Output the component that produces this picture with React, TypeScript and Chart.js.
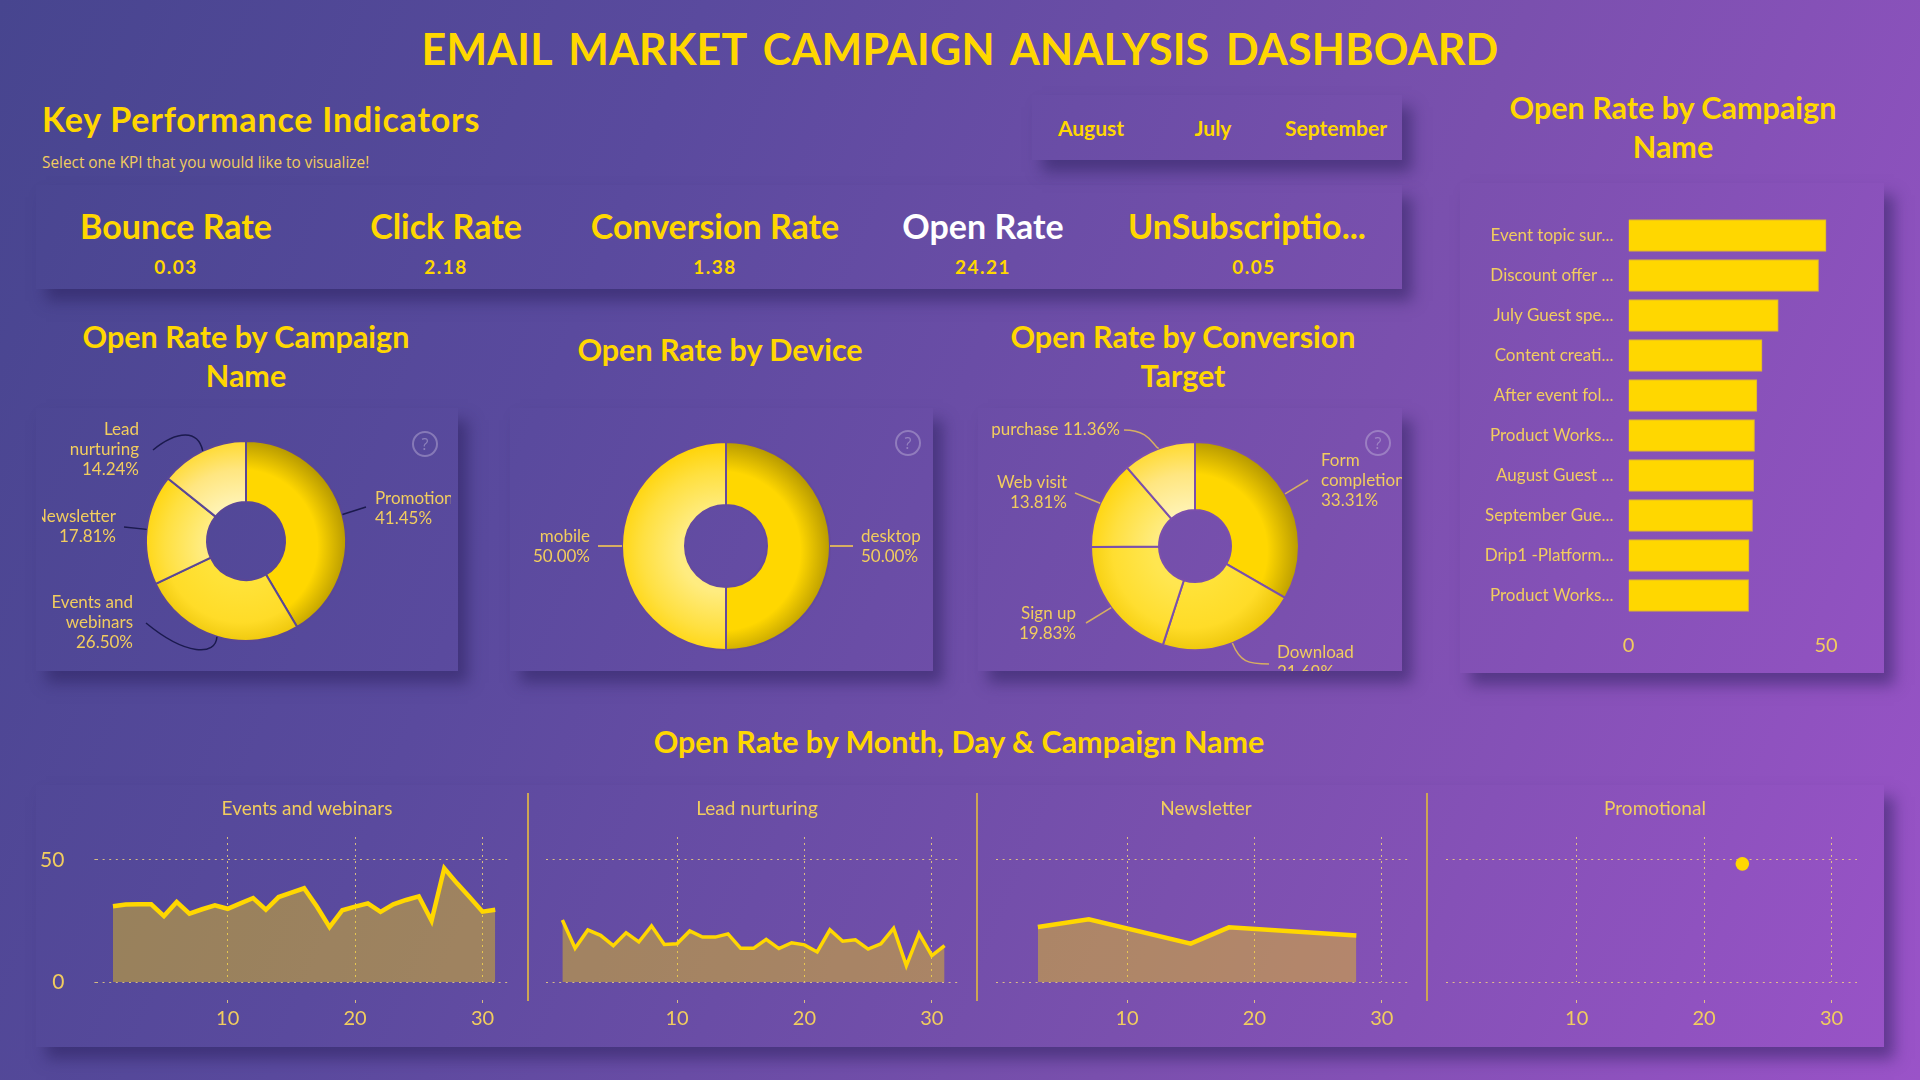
import React, { useEffect, useRef } from "react";
import { Chart, registerables } from "chart.js";

Chart.register(...registerables);

// ---------- data ----------
const kpiNames = ["Bounce Rate", "Click Rate", "Conversion Rate", "Open Rate", "UnSubscriptio..."];
const kpiValues = ["0.03", "2.18", "1.38", "24.21", "0.05"];
const months = ["August", "July", "September"];

const campaignTypes = ["Promotional", "Events and webinars", "Newsletter", "Lead nurturing"];
const campaignTypeRates = [41.45, 26.5, 17.81, 14.24];
const devices = ["desktop", "mobile"];
const deviceRates = [50, 50];
const targets = ["Form completion", "Download", "Sign up", "Web visit", "purchase"];
const targetRates = [33.31, 21.69, 19.83, 13.81, 11.36];

const campaignNames = [
  "Event topic sur...", "Discount offer ...", "July Guest spe...", "Content creati...", "After event fol...",
  "Product Works...", "August Guest ...", "September Gue...", "Drip1 -Platform...", "Product Works...",
];
const campaignRates = [50, 48.1, 37.9, 33.8, 32.5, 31.9, 31.7, 31.4, 30.5, 30.4];
const barAxisTicks = [0, 50];

const dayTicks = [10, 20, 30];
const rateTicks = [0, 50];
const panelNames = ["Events and webinars", "Lead nurturing", "Newsletter", "Promotional"];
const eventsDays = [1, 2, 3, 4, 5, 6, 7, 8, 9, 10, 11, 12, 13, 14, 15, 16, 17, 18, 19, 20, 21, 22, 23, 24, 25, 26, 27, 28, 29, 30, 31];
const eventsRates = [31, 31.7, 31.8, 31.8, 27, 32.8, 28, 29.8, 31.4, 30, 32.2, 34.4, 29.6, 34.8, 36.6, 38.4, 30.9, 22.5, 29.4, 30.9, 32.2, 28.7, 31.8, 33.6, 35.1, 25.1, 46.6, 40.4, 34.7, 28.8, 29.6];
const leadDays = eventsDays;
const leadRates = [25.4, 13.8, 21.3, 19.1, 14.9, 20.2, 16.4, 23, 15.4, 15.7, 20.9, 18.4, 18.4, 19.7, 13.8, 13.8, 17.5, 13.7, 16.1, 15.2, 12.3, 21.4, 16.7, 17.3, 13.5, 15.6, 22, 6.7, 19.9, 10.8, 14.9];
const newsDays = [3, 7, 15, 18, 28];
const newsRates = [22.5, 25.7, 15.7, 22.4, 19];
const promoDays = [23];
const promoRates = [48.4];

// ---------- styling ----------
const GOLD = "#FFD700";
const SOFT = "#F2CD5E";
const HEAD = "Lato, 'Noto Sans', sans-serif";
const THIN = "Lato, 'Open Sans', sans-serif";

type Shade = [string, string, string];
const shadeDeep: Shade = ["#FFD700", "#FFD700", "#B59800"];
const shadeWarm: Shade = ["#FFE238", "#FFDC28", "#E6BE00"];
const shadeMid: Shade = ["#FFE650", "#FFDE30", "#F2C800"];
const shadePale: Shade = ["#FFEC80", "#FFE040", "#FFD200"];
const shadeLight: Shade = ["#FFF4B8", "#FFE680", "#FFD92A"];

type Leader = { to: number[]; c1?: number[]; c2?: number[] };
type Lab = { lines: string[]; x: number; y: number; align: CanvasTextAlign; leader: Leader };

// label layout in page pixels
const layoutTypes: Lab[] = [
  { lines: ["Promotional"], x: 375, y: 499, align: "left", leader: { to: [366, 507] } },
  { lines: ["Events and", "webinars"], x: 133, y: 603, align: "right", leader: { to: [146, 623], c1: [216, 656], c2: [186, 656] } },
  { lines: ["Newsletter"], x: 116, y: 517, align: "right", leader: { to: [124, 527] } },
  { lines: ["Lead", "nurturing"], x: 139, y: 430, align: "right", leader: { to: [153, 450], c1: [198, 430], c2: [178, 430] } },
];
const layoutDevices: Lab[] = [
  { lines: ["desktop"], x: 861, y: 537, align: "left", leader: { to: [853, 546] } },
  { lines: ["mobile"], x: 590, y: 537, align: "right", leader: { to: [598, 546] } },
];
const layoutTargets: Lab[] = [
  { lines: ["Form", "completion"], x: 1321, y: 461, align: "left", leader: { to: [1308, 480] } },
  { lines: ["Download"], x: 1277, y: 653, align: "left", leader: { to: [1269, 664], c1: [1240, 662], c2: [1248, 664] } },
  { lines: ["Sign up"], x: 1076, y: 614, align: "right", leader: { to: [1086, 623] } },
  { lines: ["Web visit"], x: 1067, y: 483, align: "right", leader: { to: [1075, 493] } },
  { lines: [], x: 1120, y: 430, align: "right", leader: { to: [1124, 430], c1: [1153, 446], c2: [1150, 430] } },
];

function DonutCanvas(props: {
  names: string[]; values: number[]; shades: Shade[]; layout: Lab[]; box: number[];
  centerX: number; centerY: number; radius: number; hole: number; edge: string; line: string; lineWidth: number;
}) {
  const ref = useRef<HTMLCanvasElement>(null);
  const { names, values, shades, layout, box, centerX, centerY, radius, hole, edge, line, lineWidth } = props;
  useEffect(() => {
    const [left, top, w, h] = box;
    const cx = centerX - left, cy = centerY - top;
    const labelPlugin = {
      id: "donutLabels",
      afterDatasetsDraw(chart: any) {
        const c = chart.ctx;
        const arcs = chart.getDatasetMeta(0).data;
        c.save();
        layout.forEach((lab, i) => {
          const a = arcs[i];
          const mid = (a.startAngle + a.endAngle) / 2;
          const sx = a.x + Math.cos(mid) * a.outerRadius;
          const sy = a.y + Math.sin(mid) * a.outerRadius;
          c.beginPath();
          c.moveTo(sx, sy);
          const L = lab.leader;
          if (L.c1 && L.c2) c.bezierCurveTo(L.c1[0] - left, L.c1[1] - top, L.c2[0] - left, L.c2[1] - top, L.to[0] - left, L.to[1] - top);
          else c.lineTo(L.to[0] - left, L.to[1] - top);
          c.strokeStyle = line;
          c.lineWidth = lineWidth;
          c.stroke();
          c.font = `17px ${THIN}`;
          c.fillStyle = SOFT;
          c.textAlign = lab.align;
          c.textBaseline = "middle";
          const pct = values[i].toFixed(2) + "%";
          const rows = lab.lines.length ? [...lab.lines, pct] : [names[i] + " " + pct];
          rows.forEach((t, k) => c.fillText(t, lab.x - left, lab.y - top + k * 20));
        });
        c.restore();
      },
    };
    const chart = new Chart(ref.current as HTMLCanvasElement, {
      type: "doughnut",
      data: {
        labels: names,
        datasets: [{
          data: values,
          borderWidth: 2,
          borderColor: edge,
          backgroundColor: (ctx: any) => {
            const area = ctx.chart.chartArea;
            const sh = shades[ctx.dataIndex];
            if (!area) return sh[0];
            const g = ctx.chart.ctx.createRadialGradient(cx - 5, cy + 5, hole, cx - 5, cy + 5, radius + 7);
            g.addColorStop(0, sh[0]);
            g.addColorStop(0.55, sh[1]);
            g.addColorStop(1, sh[2]);
            return g;
          },
        }],
      },
      options: {
        responsive: false,
        animation: false,
        radius,
        cutout: `${(hole / radius) * 100}%`,
        layout: {
          padding: {
            left: Math.max(0, 2 * cx - w), right: Math.max(0, w - 2 * cx),
            top: Math.max(0, 2 * cy - h), bottom: Math.max(0, h - 2 * cy),
          },
        },
        plugins: { legend: { display: false }, tooltip: { enabled: false } },
      } as any,
      plugins: [labelPlugin],
    });
    return () => chart.destroy();
  }, []);
  return <canvas ref={ref} width={box[2]} height={box[3]} style={{ position: "absolute", left: box[0], top: box[1] }} />;
}

function BarCanvas() {
  const ref = useRef<HTMLCanvasElement>(null);
  useEffect(() => {
    const chart = new Chart(ref.current as HTMLCanvasElement, {
      type: "bar",
      data: {
        labels: campaignNames,
        datasets: [{ data: campaignRates, backgroundColor: GOLD, borderColor: "#D9AE3A", borderWidth: 1, barThickness: 32 }],
      },
      options: {
        indexAxis: "y",
        responsive: false,
        animation: false,
        layout: { padding: { top: 32.5, right: 18.4, left: 0, bottom: 0 } },
        scales: {
          x: {
            min: 0, max: 60,
            grid: { display: false }, border: { display: false },
            afterBuildTicks: (axis: any) => { axis.ticks = barAxisTicks.map((value) => ({ value })); },
            afterFit: (axis: any) => { axis.height = 57.5; },
            ticks: { color: SOFT, font: { family: THIN, size: 20 }, padding: 10, maxRotation: 0 },
          },
          y: {
            grid: { display: false }, border: { display: false },
            afterFit: (axis: any) => { axis.width = 168.5; },
            ticks: { color: SOFT, font: { family: THIN, size: 17 }, padding: 7, autoSkip: false },
          },
        },
        plugins: { legend: { display: false }, tooltip: { enabled: false } },
      } as any,
    });
    return () => chart.destroy();
  }, []);
  return <canvas ref={ref} width={424} height={490} style={{ position: "absolute", left: 1460, top: 183 }} />;
}

function LineCanvas(props: { days: number[]; rates: number[]; left: number; width: number; plotLeft: number; plotRight: number; showY: boolean; lineW: number }) {
  const ref = useRef<HTMLCanvasElement>(null);
  const { days, rates, left, width, plotLeft, plotRight, showY, lineW } = props;
  useEffect(() => {
    const dot = "rgba(255,226,120,0.75)";
    const chart = new Chart(ref.current as HTMLCanvasElement, {
      type: "line",
      data: {
        datasets: [{
          data: days.map((x, i) => ({ x, y: rates[i] })),
          borderColor: GOLD,
          borderWidth: lineW,
          borderJoinStyle: "miter",
          backgroundColor: "rgba(255,215,0,0.4)",
          fill: "origin",
          tension: 0,
          pointRadius: days.length === 1 ? 6.8 : 0,
          pointBackgroundColor: GOLD,
          pointBorderWidth: 0,
        }],
      },
      options: {
        responsive: false,
        animation: false,
        layout: { padding: { top: 52, left: 0, right: left + width - plotRight, bottom: 0 } },
        scales: {
          x: {
            type: "linear", min: -0.3, max: 32,
            afterBuildTicks: (axis: any) => { axis.ticks = dayTicks.map((value) => ({ value })); },
            afterFit: (axis: any) => { axis.height = 65; },
            border: { display: false, dash: [2, 4] },
            grid: { color: dot, tickColor: dot, tickLength: 22, tickBorderDash: [3, 100], tickBorderDashOffset: -18 },
            ticks: { color: SOFT, font: { family: THIN, size: 20 }, padding: 3, maxRotation: 0 },
          },
          y: {
            min: 0, max: 59.4,
            afterBuildTicks: (axis: any) => { axis.ticks = rateTicks.map((value) => ({ value })); },
            afterFit: (axis: any) => { axis.width = plotLeft - left; },
            border: { display: false, dash: [2, 4.6] },
            grid: { color: dot, drawTicks: showY, tickColor: dot, tickLength: 18, tickBorderDash: [2, 100], tickBorderDashOffset: -16 },
            ticks: { display: showY, color: SOFT, font: { family: THIN, size: 21 }, padding: 14 },
          },
        },
        plugins: { legend: { display: false }, tooltip: { enabled: false } },
      } as any,
    });
    return () => chart.destroy();
  }, []);
  return <canvas ref={ref} width={width} height={262} style={{ position: "absolute", left, top: 785 }} />;
}

function Txt(p: { x: number; y: number; size: number; children: any; align?: string; weight?: number; color?: string; family?: string; spacing?: number; sx?: number; words?: number }) {
  const tx = p.align === "left" ? "0" : "-50%";
  return (
    <div style={{
      position: "absolute", left: p.x, top: p.y, whiteSpace: "nowrap", lineHeight: 1,
      transform: `translate(${tx}, -50%) scaleX(${p.sx ?? 1})`, transformOrigin: p.align === "left" ? "left center" : "center center",
      fontFamily: p.family ?? HEAD, fontSize: p.size, fontWeight: p.weight ?? 700, color: p.color ?? GOLD, letterSpacing: p.spacing ?? 0, wordSpacing: p.words ?? 0,
    }}>{p.children}</div>
  );
}

const shadow = "10px 12px 14px rgba(40,30,90,0.5)";
const panels = [
  [36, 185, 1402, 289], [1032, 95, 1402, 160], [36, 408, 458, 671], [510, 408, 933, 671],
  [978, 408, 1402, 671], [1460, 183, 1884, 673], [36, 785, 1884, 1047],
];
const kpiCenters = [176, 446, 715, 983, 1247];
const kpiValueCenters = [176, 446, 715, 983, 1254];
const monthCenters = [1091, 1213, 1336];
const helpIcons = [[425, 444], [908, 443], [1378, 443]];
const dividers = [528, 977, 1426.6];
const panelTitleCenters = [307, 757, 1206, 1655];

export default function App() {
  return (
    <div style={{
      position: "fixed", left: 0, top: 0, width: 1920, height: 1080, overflow: "hidden",
      background: "linear-gradient(112deg, #47458F 0%, #5A4A9E 30%, #7A50AE 65%, #9A53C8 100%)",
    }}>
      {panels.map((b, i) => (
        <div key={i} style={{ position: "absolute", left: b[0], top: b[1], width: b[2] - b[0], height: b[3] - b[1], boxShadow: shadow }} />
      ))}

      <Txt x={960} y={48} size={43} spacing={0.2} words={6}>EMAIL MARKET CAMPAIGN ANALYSIS DASHBOARD</Txt>
      <Txt x={42} y={119} size={34} align="left" spacing={0.8}>Key Performance Indicators</Txt>
      <Txt x={42} y={162} size={16} align="left" weight={400} color={SOFT} family={"'Open Sans', sans-serif"} sx={0.96}>Select one KPI that you would like to visualize!</Txt>

      {months.map((m, i) => <Txt key={m} x={monthCenters[i]} y={127} size={21}>{m}</Txt>)}
      {kpiNames.map((n, i) => <Txt key={n} x={kpiCenters[i]} y={226} size={34} color={i === 3 ? "#FFFFFF" : GOLD}>{n}</Txt>)}
      {kpiValues.map((v, i) => <Txt key={i} x={kpiValueCenters[i]} y={266} size={19} spacing={1.5}>{v}</Txt>)}

      <Txt x={246} y={336} size={30.5}>Open Rate by Campaign</Txt>
      <Txt x={246} y={375} size={30.5}>Name</Txt>
      <Txt x={720} y={349} size={30.5}>Open Rate by Device</Txt>
      <Txt x={1183} y={336} size={30.5}>Open Rate by Conversion</Txt>
      <Txt x={1183} y={375} size={30.5}>Target</Txt>
      <Txt x={1673} y={107} size={30.5}>Open Rate by Campaign</Txt>
      <Txt x={1673} y={146} size={30.5}>Name</Txt>
      <Txt x={959} y={741} size={30.5}>Open Rate by Month, Day &amp; Campaign Name</Txt>

      <DonutCanvas names={campaignTypes} values={campaignTypeRates} shades={[shadeDeep, shadeWarm, shadePale, shadeLight]} layout={layoutTypes}
        box={[42, 408, 409, 263]} centerX={246} centerY={541} radius={100} hole={39} edge="#5A4796" line="#1B1A4E" lineWidth={1.5} />
      <DonutCanvas names={devices} values={deviceRates} shades={[shadeDeep, shadePale]} layout={layoutDevices}
        box={[521, 408, 410, 263]} centerX={726} centerY={546} radius={104} hole={41} edge="#654A9F" line="#D7AE62" lineWidth={2} />
      <DonutCanvas names={targets} values={targetRates} shades={[shadeDeep, shadeWarm, shadeMid, shadePale, shadeLight]} layout={layoutTargets}
        box={[978, 408, 424, 263]} centerX={1195} centerY={546} radius={104} hole={36} edge="#7B50AC" line="#D7AE62" lineWidth={1.5} />

      {helpIcons.map((h, i) => (
        <div key={i} style={{
          position: "absolute", left: h[0] - 13, top: h[1] - 13, width: 22, height: 22, border: "2px solid rgba(205,195,225,0.4)", borderRadius: "50%",
          color: "rgba(205,195,225,0.45)", fontFamily: "'Open Sans', sans-serif", fontSize: 16, lineHeight: "22px", textAlign: "center",
        }}>?</div>
      ))}

      <BarCanvas />

      <LineCanvas days={eventsDays} rates={eventsRates} left={36} width={492} plotLeft={96.4} plotRight={508} showY lineW={4.5} />
      <LineCanvas days={leadDays} rates={leadRates} left={529} width={448} plotLeft={545.8} plotRight={957.3} showY={false} lineW={3.5} />
      <LineCanvas days={newsDays} rates={newsRates} left={978} width={448} plotLeft={995.8} plotRight={1407.3} showY={false} lineW={4.5} />
      <LineCanvas days={promoDays} rates={promoRates} left={1428} width={448} plotLeft={1445.5} plotRight={1857} showY={false} lineW={4.5} />

      {dividers.map((x) => <div key={x} style={{ position: "absolute", left: x - 1, top: 793, width: 2, height: 208, background: "#CDA554" }} />)}
      {panelNames.map((n, i) => <Txt key={n} x={panelTitleCenters[i]} y={807} size={19} weight={400} color={SOFT} family={THIN}>{n}</Txt>)}
    </div>
  );
}
